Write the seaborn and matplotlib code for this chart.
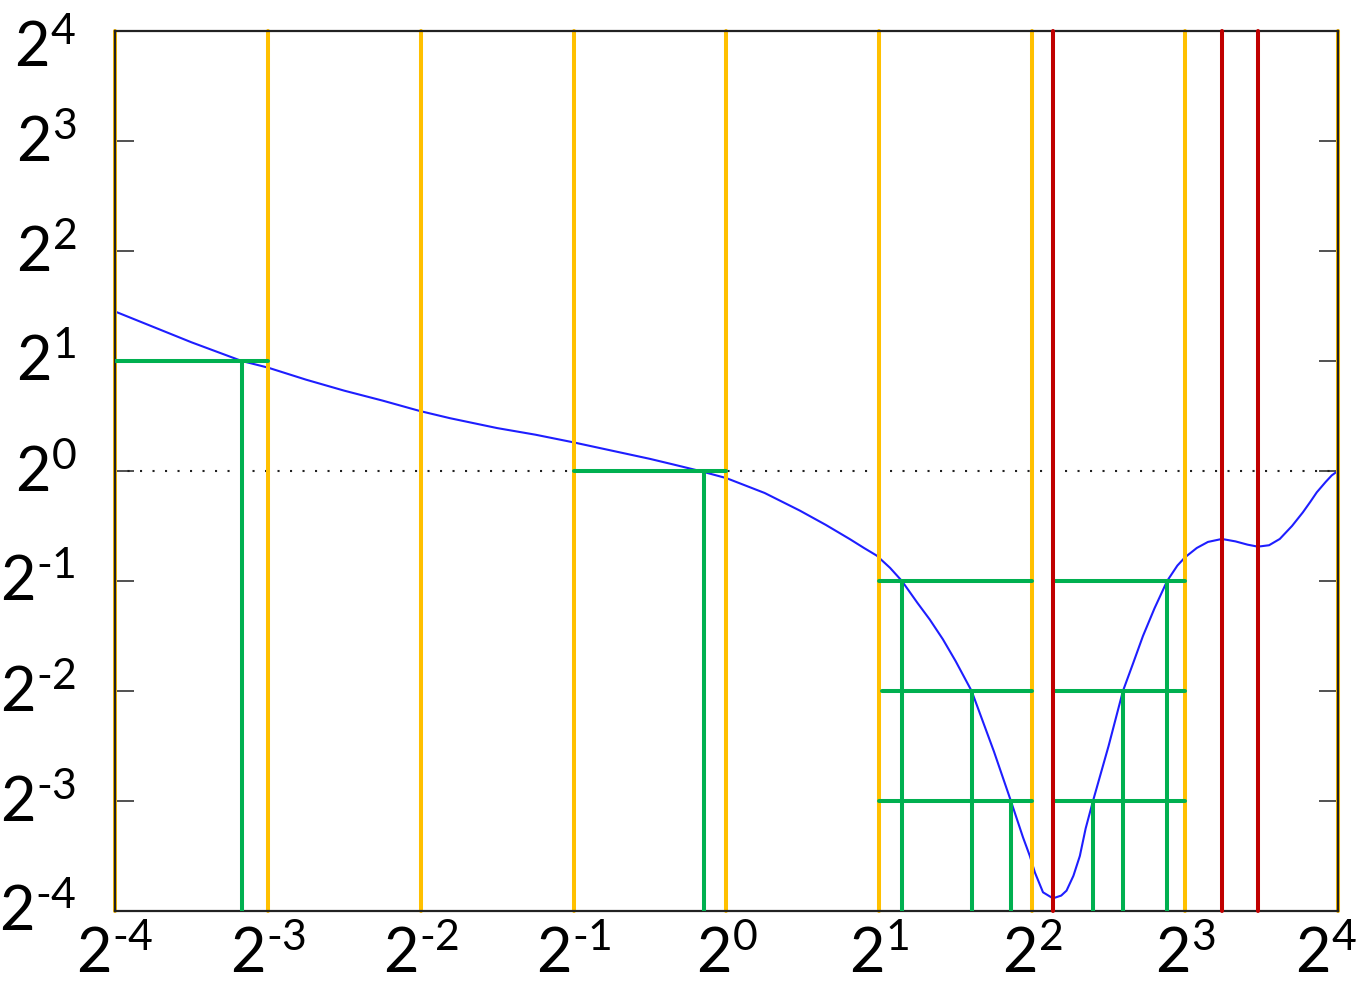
import matplotlib
matplotlib.use("Agg")
import matplotlib.pyplot as plt
import matplotlib.transforms as mtrans
import numpy as np
import pandas as pd
import seaborn as sns

# exponents of 2 (curve)
curve_x = [-4.0, -3.75, -3.5, -3.171, -3.0, -2.75, -2.5, -2.25, -2.005, -1.809,
           -1.5, -1.25, -1.0, -0.75, -0.5, -0.35, -0.173, 0.0, 0.25,
           0.48, 0.65, 0.808, 0.9, 0.984, 1.07, 1.148, 1.25, 1.33, 1.416,
           1.5, 1.604, 1.75, 1.861, 1.94, 1.985, 2.018, 2.071, 2.136, 2.19,
           2.225, 2.27, 2.312, 2.35, 2.398, 2.5, 2.594, 2.66, 2.725, 2.8,
           2.883, 2.95, 3.0, 3.077, 3.15, 3.241, 3.33, 3.41, 3.477, 3.55,
           3.62, 3.7, 3.771, 3.82, 3.862, 3.92, 3.96, 4.0]
curve_y = [1.45, 1.31, 1.17, 1.0, 0.94, 0.83, 0.73, 0.64, 0.545, 0.48,
           0.39, 0.33, 0.26, 0.185, 0.11, 0.06, 0.0, -0.065, -0.2,
           -0.36, -0.49, -0.62, -0.70, -0.77, -0.88, -1.0, -1.2, -1.35, -1.53,
           -1.73, -2.0, -2.55, -3.0, -3.33, -3.5, -3.65, -3.83, -3.885, -3.86,
           -3.815, -3.68, -3.5, -3.25, -3.0, -2.5, -2.0, -1.75, -1.5, -1.25,
           -1.0, -0.86, -0.785, -0.7, -0.645, -0.618, -0.64, -0.67, -0.688, -0.675,
           -0.618, -0.5, -0.376, -0.28, -0.194, -0.1, -0.04, 0.0]

powers = list(range(-4, 5))
orange_x = powers
red_x = [2.135, 3.24, 3.475]

# green steps: level, left end, right end, drop position (all exponents)
green_level = [1, 0, -1, -2, -3, -1, -2, -3]
green_left = [-4, -1, 1, 1.02, 1, 2.135, 2.135, 2.135]
green_right = [-3, 0, 2, 2, 2, 3, 3, 3]
green_drop = [-3.171, -0.15, 1.148, 1.604, 1.861, 2.883, 2.594, 2.398]

sns.set_theme(style="white")
plt.rcParams["font.family"] = ["Lato", "DejaVu Sans"]
plt.rcParams["mathtext.fontset"] = "custom"
plt.rcParams["mathtext.rm"] = "Lato"
plt.rcParams["mathtext.it"] = "Lato"

ORANGE = "#FFC000"
GREEN = "#00B050"
RED = "#C00000"
BLUE = "#1E1EFF"

fig = plt.figure(figsize=(13.61, 9.87), dpi=100)
ax = fig.add_axes([0.0845, 0.076, 0.8985, 0.8916])
ax.set_xscale("log", base=2)
ax.set_yscale("log", base=2)

curve = pd.DataFrame({"x": np.power(2.0, curve_x), "y": np.power(2.0, curve_y)})
sns.lineplot(data=curve, x="x", y="y", color=BLUE, lw=1.5, estimator=None,
             ax=ax, zorder=1.5)

# zero axes (dotted)
ax.axhline(1, color="#222222", lw=1.5, ls=(0, (1, 5)), zorder=1)
ax.axvline(1, color="#222222", lw=1.5, ls=(0, (1, 5)), zorder=1)

for k in orange_x:
    ax.axvline(2.0 ** k, color=ORANGE, lw=2.9, solid_capstyle="round",
               clip_on=False, zorder=2)

for lv, lo, hi, dr in zip(green_level, green_left, green_right, green_drop):
    ax.hlines(2.0 ** lv, 2.0 ** lo, 2.0 ** hi, color=GREEN, lw=2.9,
              capstyle="round", zorder=3)
    ax.vlines(2.0 ** dr, 2.0 ** -4, 2.0 ** lv, color=GREEN, lw=2.9,
              capstyle="round", zorder=3)

for k in red_x:
    ax.axvline(2.0 ** k, color=RED, lw=2.9, solid_capstyle="round",
               clip_on=False, zorder=4)

ax.set_xlim(2.0 ** -4, 2.0 ** 4)
ax.set_ylim(2.0 ** -4, 2.0 ** 4)
ticks = [2.0 ** k for k in powers]
labels = [r"$\mathregular{2^{\text{%d}}}$" % k for k in powers]
ax.set_xticks(ticks)
ax.set_xticklabels(labels)
ax.set_yticks(ticks)
ax.set_yticklabels(labels)
ax.minorticks_off()
ax.set_xlabel("")
ax.set_ylabel("")

for s in ax.spines.values():
    s.set_color("#222222")
    s.set_linewidth(1.6)

ax.tick_params(axis="both", which="major", direction="in", color="#333333",
               width=1.2, labelsize=44, labelcolor="black",
               top=True, right=True, bottom=True, left=True)
ax.tick_params(axis="x", length=18, pad=10)
ax.tick_params(axis="y", length=14, pad=28)

# base digit of y labels sits about on the tick
ylabs = ax.get_yticklabels()
for i, lab in enumerate(ylabs):
    dy = 4 if i < len(ylabs) - 1 else -12
    lab.set_transform(lab.get_transform()
                      + mtrans.ScaledTranslation(0, dy / 100, fig.dpi_scale_trans))
xlabs = ax.get_xticklabels()
xlabs[-1].set_transform(xlabs[-1].get_transform()
                        + mtrans.ScaledTranslation(-12 / 100, 0, fig.dpi_scale_trans))

fig.savefig("out.png", dpi=100)
